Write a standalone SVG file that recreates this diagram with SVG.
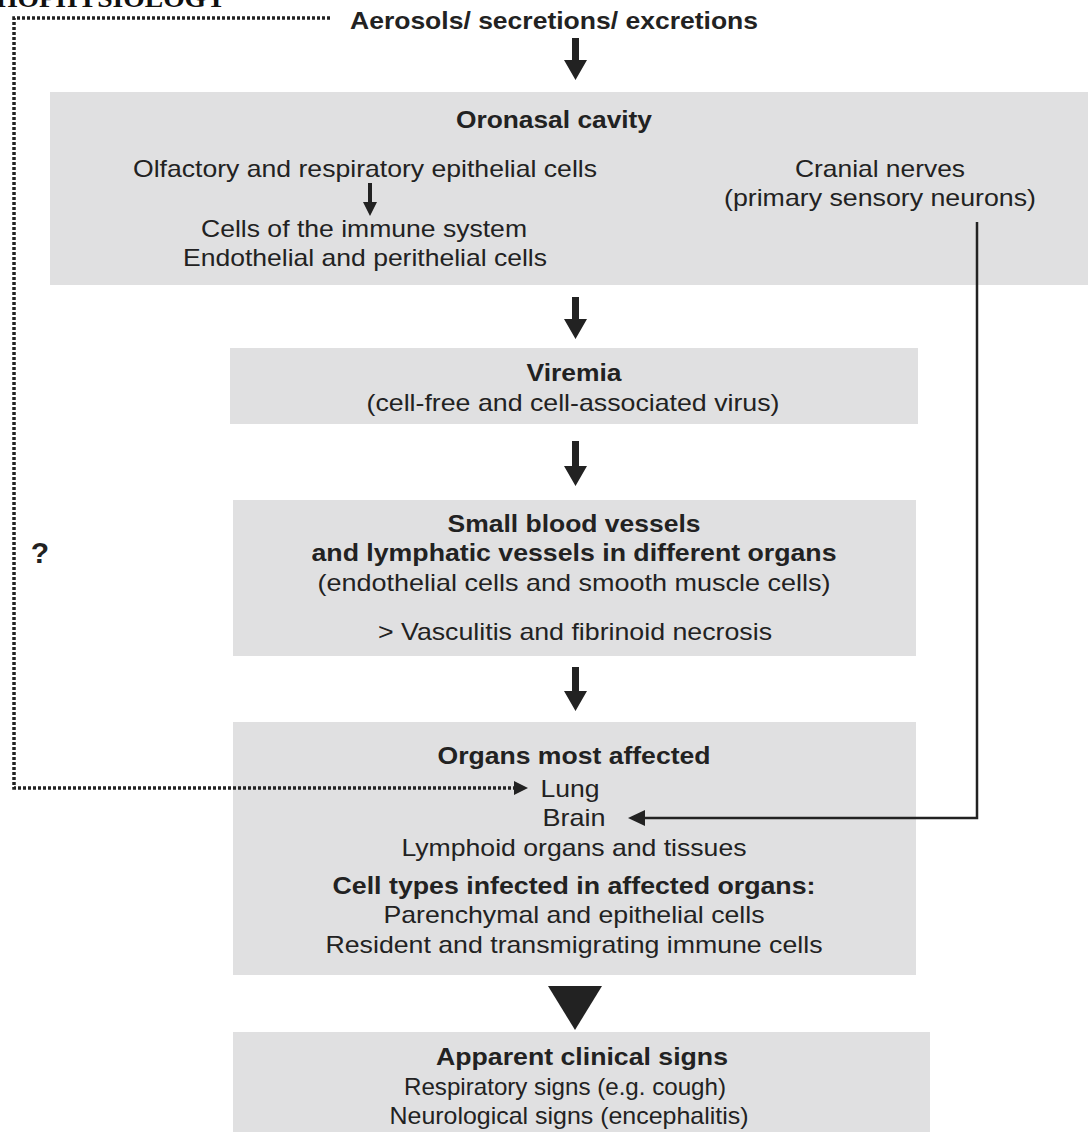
<svg xmlns="http://www.w3.org/2000/svg" width="1088" height="1132" viewBox="0 0 1088 1132">
<defs>
<style>
.box{fill:#e0e0e1}
.t{font-family:"Liberation Sans",Arial,sans-serif;font-size:24px;fill:#222;text-anchor:middle}
.b{font-weight:bold}
.blk{fill:#222}
</style>
</defs>
<rect width="1088" height="1132" fill="#fff"/>
<text x="-4" y="7" font-family="'Liberation Serif',serif" font-weight="bold" font-size="26" fill="#111" textLength="230" lengthAdjust="spacingAndGlyphs">HOPHYSIOLOGY</text>

<g id="n0"><text class="t b" x="554" y="29" textLength="408" lengthAdjust="spacingAndGlyphs">Aerosols/ secretions/ excretions</text></g>

<g id="n1">
<rect class="box" x="50" y="92" width="1038" height="193"/>
<text class="t b" x="554" y="128" textLength="196" lengthAdjust="spacingAndGlyphs">Oronasal cavity</text>
<text class="t" x="365" y="177" textLength="464" lengthAdjust="spacingAndGlyphs">Olfactory and respiratory epithelial cells</text>
<text class="t" x="364" y="237" textLength="326" lengthAdjust="spacingAndGlyphs">Cells of the immune system</text>
<text class="t" x="365" y="266" textLength="364" lengthAdjust="spacingAndGlyphs">Endothelial and perithelial cells</text>
<text class="t" x="880" y="177" textLength="170" lengthAdjust="spacingAndGlyphs">Cranial nerves</text>
<text class="t" x="880" y="206" textLength="312" lengthAdjust="spacingAndGlyphs">(primary sensory neurons)</text>
</g>

<g id="n2">
<rect class="box" x="230" y="348" width="688" height="76"/>
<text class="t b" x="574" y="381" textLength="95" lengthAdjust="spacingAndGlyphs">Viremia</text>
<text class="t" x="573" y="411" textLength="413" lengthAdjust="spacingAndGlyphs">(cell-free and cell-associated virus)</text>
</g>

<g id="n3">
<rect class="box" x="233" y="500" width="683" height="156"/>
<text class="t b" x="574" y="532" textLength="253" lengthAdjust="spacingAndGlyphs">Small blood vessels</text>
<text class="t b" x="574" y="561" textLength="525" lengthAdjust="spacingAndGlyphs">and lymphatic vessels in different organs</text>
<text class="t" x="574" y="591" textLength="513" lengthAdjust="spacingAndGlyphs">(endothelial cells  and smooth muscle cells)</text>
<text class="t" x="575" y="640" textLength="394" lengthAdjust="spacingAndGlyphs">&gt; Vasculitis and fibrinoid necrosis</text>
</g>

<g id="n4">
<rect class="box" x="233" y="722" width="683" height="253"/>
<text class="t b" x="574" y="764" textLength="273" lengthAdjust="spacingAndGlyphs">Organs most affected</text>
<text class="t" x="570" y="797" textLength="59" lengthAdjust="spacingAndGlyphs">Lung</text>
<text class="t" x="574" y="826" textLength="63" lengthAdjust="spacingAndGlyphs">Brain</text>
<text class="t" x="574" y="856" textLength="345" lengthAdjust="spacingAndGlyphs">Lymphoid organs and tissues</text>
<text class="t b" x="574" y="894" textLength="483" lengthAdjust="spacingAndGlyphs">Cell types infected in affected organs:</text>
<text class="t" x="574" y="923" textLength="381" lengthAdjust="spacingAndGlyphs">Parenchymal and epithelial cells</text>
<text class="t" x="574" y="953" textLength="497" lengthAdjust="spacingAndGlyphs">Resident and transmigrating immune cells</text>
</g>

<g id="n5">
<rect class="box" x="233" y="1032" width="697" height="100"/>
<text class="t b" x="582" y="1065" textLength="292" lengthAdjust="spacingAndGlyphs">Apparent clinical signs</text>
<text class="t" x="565" y="1095" textLength="322" lengthAdjust="spacingAndGlyphs">Respiratory signs (e.g. cough)</text>
<text class="t" x="569" y="1124" textLength="359" lengthAdjust="spacingAndGlyphs">Neurological signs (encephalitis)</text>
</g>

<g id="q"><text x="40" y="563" font-family="'Liberation Sans',Arial,sans-serif" font-weight="bold" font-size="30" fill="#222" text-anchor="middle">?</text></g>

<g id="connectors">
<path class="blk" d="M572,38 H579 V60 H587 L575.5,80 L564,60 H572 Z"/>
<path class="blk" d="M368,183 H372 V202 H377 L370,216 L363,202 H368 Z"/>
<path class="blk" d="M572,297 H579 V319 H587 L575.5,339 L564,319 H572 Z"/>
<path class="blk" d="M572,441 H579 V466 H587 L575.5,486 L564,466 H572 Z"/>
<path class="blk" d="M572,667 H579 V691 H587 L575.5,711 L564,691 H572 Z"/>
<path class="blk" d="M548,986 H602 L575,1030 Z"/>
<path d="M330,18 H14 V788 H516" fill="none" stroke="#222" stroke-width="3.5" stroke-dasharray="3 2"/>
<path d="M514,781 L528,788 L514,795 Z" fill="#222"/>
<path d="M977,222 V818 H640" fill="none" stroke="#222" stroke-width="2.5"/>
<path d="M645,810 L628,818 L645,826 Z" fill="#222"/>
</g>
</svg>
